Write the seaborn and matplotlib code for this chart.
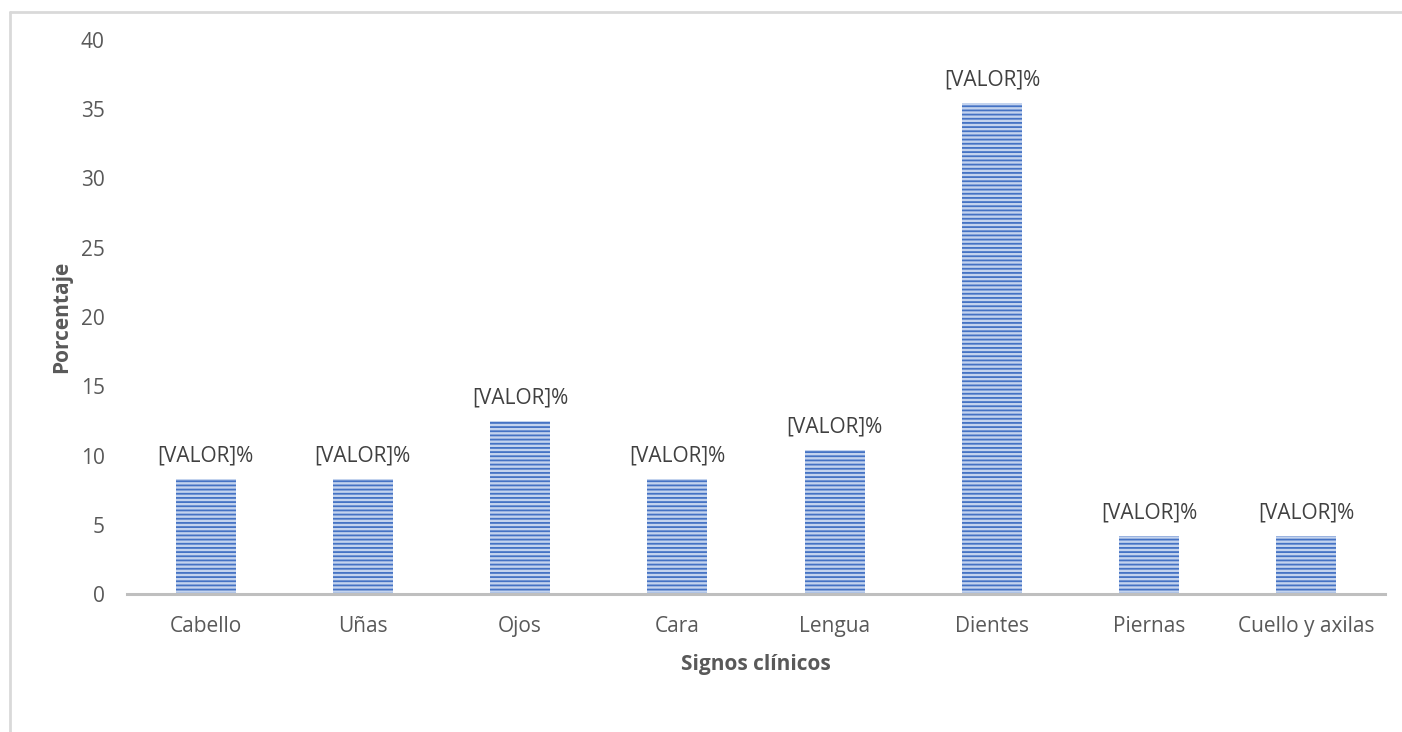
import matplotlib
matplotlib.use("Agg")
import matplotlib.pyplot as plt
import seaborn as sns
import pandas as pd
from matplotlib.lines import Line2D

categories = ["Cabello", "Uñas", "Ojos", "Cara", "Lengua", "Dientes", "Piernas", "Cuello y axilas"]
values = [8.33, 8.33, 12.5, 8.33, 10.42, 35.42, 4.17, 4.17]
bar_labels = ["[VALOR]%"] * len(categories)
y_ticks = [0, 5, 10, 15, 20, 25, 30, 35, 40]

sns.set_theme(style="white")
plt.rcParams["font.family"] = ["Open Sans", "DejaVu Sans"]
plt.rcParams["hatch.color"] = "#4472C4"
plt.rcParams["hatch.linewidth"] = 1.3

df = pd.DataFrame({"signo": categories, "pct": values})

fig = plt.figure(figsize=(14.02, 7.32), dpi=100)
ax = fig.add_axes([127 / 1402, 1 - 594 / 732, (1385 - 127) / 1402, (594 - 40) / 732])

sns.barplot(data=df, x="signo", y="pct", ax=ax, width=0.38,
            color="#C3D3EE", saturation=1, edgecolor="none")
for p in ax.patches:
    p.set_hatch("----")
    p.set_edgecolor("#4472C4")
    p.set_linewidth(0)

text_color = "#595959"
fs = 15
for p, lab in zip(ax.patches, bar_labels):
    ax.annotate(lab, (p.get_x() + p.get_width() / 2, p.get_height()),
                xytext=(0, 9), textcoords="offset points",
                ha="center", va="bottom", fontsize=fs, color="#404040")

ax.set_ylim(0, 40)
ax.set_xlim(-0.5, len(categories) - 0.5)
ax.set_yticks(y_ticks)
ax.tick_params(axis="both", length=0, labelsize=fs, colors=text_color)
ax.tick_params(axis="y", pad=16)
ax.tick_params(axis="x", pad=16)
for s in ["top", "right", "left"]:
    ax.spines[s].set_visible(False)
ax.spines["bottom"].set_color("#BFBFBF")
ax.spines["bottom"].set_linewidth(2.2)

ax.set_xlabel("Signos clínicos", fontsize=fs, fontweight="bold", color=text_color, labelpad=12)
ax.set_ylabel("Porcentaje", fontsize=fs, fontweight="bold", color=text_color, labelpad=6)

# chart area frame (top and left edges)
fw, fh = 1402, 732
fig.add_artist(Line2D([10 / fw, 1.0], [1 - 12 / fh, 1 - 12 / fh], transform=fig.transFigure,
                      color="#D9D9D9", lw=2))
fig.add_artist(Line2D([10 / fw, 10 / fw], [0, 1 - 12 / fh], transform=fig.transFigure,
                      color="#D9D9D9", lw=2))

fig.savefig("out.png", dpi=100, facecolor="white")
